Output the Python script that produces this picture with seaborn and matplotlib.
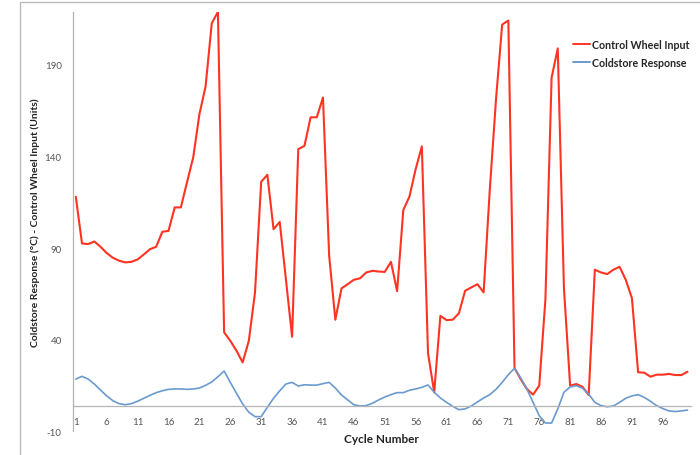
import matplotlib
matplotlib.use("Agg")
import matplotlib.pyplot as plt
import seaborn as sns
import pandas as pd
from matplotlib.patches import Rectangle

# values
cycles = list(range(1, 101))

control_wheel = [
    118, 92.5, 92.2, 93.6, 90.7, 87.3, 84.7, 83.1, 82.2, 82.5,
    83.8, 86.5, 89.4, 90.7, 98.9, 99.4, 112.2, 112.2, 126, 139.5,
    163, 178.2, 212.7, 218.9, 44, 39.4, 34, 27.6, 39.4, 65.8,
    126.2, 130, 100.3, 104.3, 73, 41.6, 144, 145.8, 161.4, 161.4,
    172.2, 85.8, 50.9, 68, 70.3, 72.7, 73.5, 76.7, 77.6, 77.2,
    77, 82.5, 66.5, 110.7, 118.2, 133.1, 145.5, 32.6, 11.3, 53,
    50.7, 50.9, 54.4, 66.7, 68.5, 70.3, 65.8, 122, 171, 212,
    214.2, 24.5, 18.5, 13.1, 10, 14.9, 62, 183, 199, 68,
    14.9, 15.8, 14.3, 9.8, 78.2, 76.7, 75.8, 78.2, 79.8, 72.7,
    62.7, 22.2, 22, 19.8, 20.9, 20.9, 21.3, 20.7, 20.7, 22.5,
]

coldstore = [
    18.5, 20.0, 18.5, 15.8, 12.5, 9.3, 6.7, 5.1, 4.5, 5.1,
    6.4, 8.0, 9.6, 11.1, 12.1, 12.9, 13.1, 13.1, 12.9, 13.1,
    13.6, 15.1, 16.9, 19.8, 22.9, 16.7, 10.7, 4.9, 0.4, -2.0,
    -2.0, 3.1, 8.0, 12.1, 15.8, 16.7, 14.7, 15.4, 15.2, 15.2,
    16.0, 16.7, 13.6, 9.8, 7.1, 4.5, 3.8, 4.0, 5.3, 7.1,
    8.7, 10.0, 11.1, 11.1, 12.4, 13.1, 14.0, 15.3, 11.3, 8.2,
    5.8, 3.6, 1.8, 2.2, 3.8, 6.0, 8.2, 10.0, 12.9, 16.7,
    20.9, 24.4, 19.1, 13.1, 5.8, -1.5, -5.5, -5.5, 2.2, 11.3,
    14.2, 14.9, 13.5, 10.3, 5.8, 4.0, 3.4, 3.8, 5.8, 8.0,
    9.3, 10.0, 8.5, 6.4, 4.0, 2.4, 1.1, 0.8, 1.1, 1.6,
]

series_names = ["Control Wheel Input", "Coldstore Response"]
x_labels = list(range(1, 100, 5))
y_ticks = [-10, 40, 90, 140, 190]

df = pd.DataFrame({
    "Cycle": cycles * 2,
    "Value": control_wheel + coldstore,
    "Series": [series_names[0]] * len(cycles) + [series_names[1]] * len(cycles),
})

sns.set_style("white")
plt.rcParams["font.family"] = ["Lato", "DejaVu Sans"]

fig = plt.figure(figsize=(7, 4.56), dpi=100)
ax = fig.add_axes([0.1039, 0.052, 0.8827, 0.920])

palette = {series_names[0]: "#FF3322", series_names[1]: "#6A9AD0"}
sns.lineplot(data=df, x="Cycle", y="Value", hue="Series", palette=palette,
             hue_order=series_names, size="Series", sizes=[1.5, 1.2],
             size_order=series_names, ax=ax)

ax.set_xlim(0.5, 100.5)
ax.set_ylim(-10, 219)

axis_gray = "#B4B4B4"
for side in ["top", "right"]:
    ax.spines[side].set_visible(False)
ax.spines["left"].set_color(axis_gray)
ax.spines["bottom"].set_color(axis_gray)
ax.spines["left"].set_linewidth(0.9)
ax.spines["bottom"].set_linewidth(0.9)
ax.spines["bottom"].set_position(("data", 4))

ax.set_yticks(y_ticks)
ax.set_yticklabels([str(v) for v in y_ticks])
ax.set_xticks(x_labels)
ax.set_xticklabels([str(v) for v in x_labels])
ax.set_xticks([0.5 + 5 * i for i in range(21)], minor=True)

ax.tick_params(axis="y", which="major", direction="out", length=3, width=0.8,
               color=axis_gray, labelsize=7, labelcolor="#555555", pad=5)
ax.tick_params(axis="x", which="major", length=0, labelsize=7,
               labelcolor="#555555", pad=8)
ax.tick_params(axis="x", which="minor", direction="in", length=3, width=0.8,
               color=axis_gray)

ax.set_xlabel("")
ax.set_ylabel("Coldstore Response (°C) - Control Wheel Input (Units)",
              fontsize=7.5, fontweight="bold", color="#222222")
ax.yaxis.set_label_coords(-0.053, 0.5)
fig.text(381.6 / 700, 1 - 440 / 456, "Cycle Number", ha="center", va="center",
         fontsize=8.5, fontweight="bold", color="#222222")

leg = ax.legend(loc="upper left", bbox_to_anchor=(0.803, 0.945), frameon=False,
                handlelength=1.6, handletextpad=0.15, labelspacing=0.6,
                borderaxespad=0, prop={"size": 7.7, "weight": "bold"})
for line in leg.get_lines():
    line.set_linewidth(1.4)

fig.patches.append(Rectangle((20 / 700, -0.05), 1.0, 1 - 3 / 456 + 0.05,
                             transform=fig.transFigure, fill=False,
                             edgecolor="#BBBBBB", linewidth=1.0))

fig.savefig("out.png", dpi=100)
